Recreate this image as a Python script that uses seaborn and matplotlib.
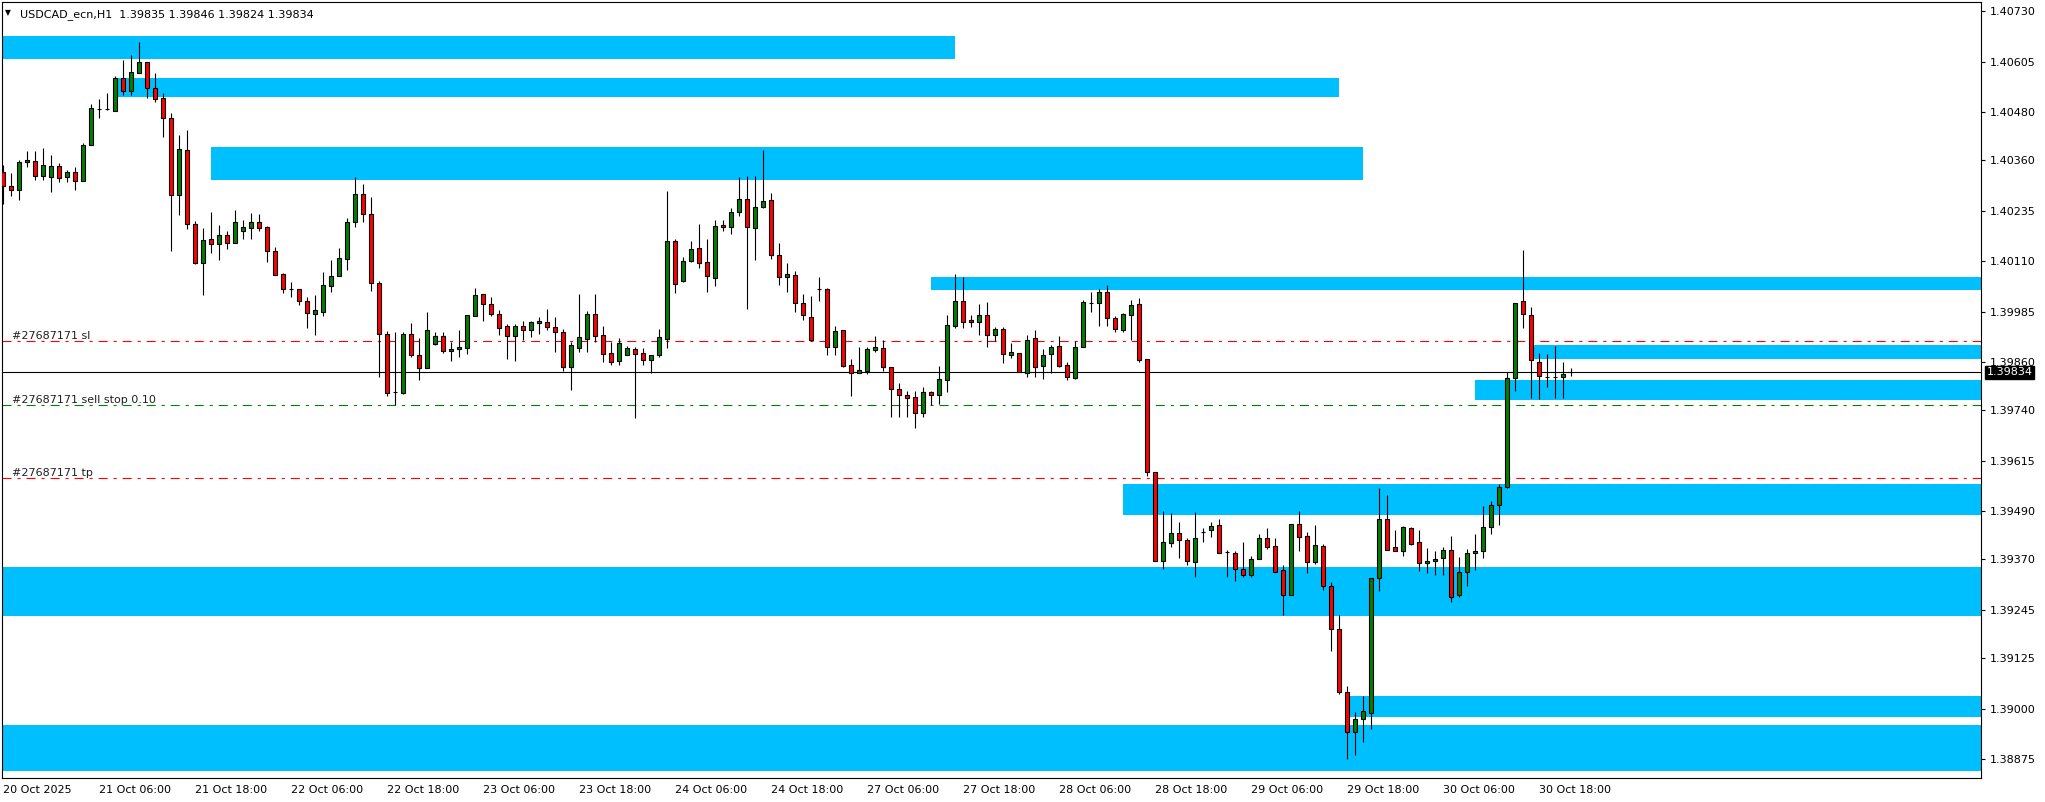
import numpy as np
import pandas as pd
import matplotlib
matplotlib.use("Agg")
import matplotlib.pyplot as plt
import matplotlib.transforms as mtransforms
import seaborn as sns

title_text = "USDCAD_ecn,H1  1.39835 1.39846 1.39824 1.39834"

# hourly bars from 20 Oct 18:00 to 30 Oct 22:00, weekend skipped
bar_times = pd.date_range("2025-10-20 18:00", "2025-10-30 22:00", freq="h")
bar_times = bar_times[bar_times.dayofweek < 5]

# OHLC in points (1 point = 0.00001)
open_pts = [
    140332, 140297, 140287, 140355, 140358, 140322, 140320, 140346, 140320, 140331, 140310, 140398,
    140488, 140488, 140483, 140564, 140533, 140578, 140604, 140539, 140514, 140465, 140273, 140386,
    140202, 140106, 140165, 140152, 140175, 140156, 140186, 140193, 140207, 140195, 140135, 140078,
    140040, 140040, 140011, 139978, 139985, 140049, 140074, 140116, 140206, 140276, 140226, 140057,
    139929, 139785, 139784, 139929, 139877, 139844, 139905, 139924, 139886, 139891, 139894, 139973,
    140028, 140003, 139978, 139948, 139925, 139948, 139940, 139957, 139958, 139946, 139934, 139848,
    139895, 139918, 139978, 139926, 139881, 139863, 139876, 139891, 139881, 139866, 139876, 139918,
    140159, 140062, 140111, 140142, 140107, 140068, 140199, 140194, 140231, 140264, 140192, 140244,
    140261, 140125, 140070, 140075, 140006, 139972, 140041, 140041, 139898, 139939, 139852, 139833,
    139838, 139890, 139894, 139847, 139792, 139777, 139772, 139733, 139785, 139777, 139814, 139950,
    140011, 139963, 139960, 139976, 139928, 139941, 139876, 139881, 139833, 139919, 139851, 139879,
    139900, 139852, 139821, 139896, 140007, 140006, 140033, 139969, 139938, 139977, 140003, 139867,
    139587, 139365, 139410, 139435, 139418, 139363, 139439, 139442, 139456, 139388, 139386, 139347,
    139332, 139371, 139423, 139404, 139344, 139282, 139458, 139427, 139364, 139403, 139304, 139197,
    139040, 138942, 138973, 138990, 139324, 139470, 139400, 139391, 139448, 139413, 139360, 139365,
    139373, 139393, 139282, 139340, 139386, 139390, 139450, 139504, 139550, 139819, 140010, 139976,
    139861, 139823, 139823, 139823, 139835,
]
high_pts = [
    140349, 140329, 140361, 140383, 140383, 140391, 140373, 140353, 140337, 140344, 140403, 140500,
    140512, 140527, 140569, 140609, 140622, 140654, 140604, 140576, 140527, 140477, 140423, 140436,
    140209, 140192, 140232, 140200, 140185, 140237, 140212, 140230, 140227, 140197, 140144, 140081,
    140058, 140040, 140022, 140026, 140083, 140113, 140143, 140218, 140319, 140302, 140270, 140061,
    139937, 139934, 139934, 139956, 139919, 139983, 139934, 139934, 139910, 139939, 139976, 140044,
    140028, 140020, 139989, 139954, 139954, 139962, 139962, 139971, 139991, 139971, 139942, 139910,
    140029, 139986, 140029, 139948, 139910, 139919, 139900, 139896, 139894, 139877, 139941, 140284,
    140164, 140120, 140159, 140202, 140165, 140212, 140212, 140241, 140319, 140321, 140321, 140386,
    140278, 140154, 140105, 140086, 140028, 140024, 140070, 140043, 139949, 139939, 139867, 139898,
    139898, 139924, 139915, 139847, 139807, 139788, 139788, 139797, 139788, 139850, 139977, 140078,
    140070, 139977, 140003, 140008, 139947, 139947, 139908, 139881, 139927, 139939, 139892, 139902,
    139925, 139860, 139912, 140014, 140033, 140040, 140050, 139975, 139982, 140014, 140018, 139867,
    139587, 139490, 139486, 139463, 139423, 139488, 139449, 139462, 139471, 139394, 139392, 139414,
    139379, 139432, 139449, 139423, 139355, 139458, 139490, 139439, 139455, 139409, 139314, 139233,
    139055, 138992, 139031, 139323, 139547, 139529, 139442, 139453, 139451, 139442, 139398, 139390,
    139401, 139427, 139375, 139395, 139433, 139503, 139514, 139556, 139834, 140005, 140137, 139996,
    139882, 139879, 139900, 139860, 139846,
]
low_pts = [
    140252, 140272, 140262, 140344, 140311, 140311, 140282, 140307, 140307, 140287, 140310, 140397,
    140465, 140486, 140483, 140522, 140522, 140578, 140516, 140506, 140419, 140134, 140225, 140189,
    140103, 140026, 140131, 140113, 140141, 140156, 140165, 140165, 140186, 140109, 140076, 140030,
    140022, 140001, 139945, 139927, 139975, 140034, 140072, 140088, 140196, 140206, 140037, 139823,
    139776, 139752, 139780, 139873, 139815, 139844, 139902, 139883, 139863, 139873, 139880, 139973,
    139962, 139975, 139927, 139868, 139863, 139915, 139923, 139929, 139938, 139885, 139838, 139790,
    139884, 139885, 139910, 139861, 139852, 139852, 139876, 139722, 139852, 139832, 139872, 139895,
    140030, 140059, 140109, 140094, 140034, 140049, 140186, 140178, 140223, 139992, 140114, 140241,
    140116, 140052, 140034, 139985, 139964, 139912, 140012, 139876, 139877, 139848, 139776, 139832,
    139829, 139884, 139838, 139724, 139724, 139724, 139697, 139724, 139753, 139756, 139785, 139943,
    139943, 139947, 139928, 139896, 139913, 139857, 139869, 139836, 139823, 139823, 139818, 139832,
    139848, 139814, 139818, 139896, 139985, 139950, 139950, 139935, 139935, 139915, 139861, 139578,
    139365, 139347, 139401, 139373, 139357, 139327, 139414, 139426, 139386, 139327, 139316, 139327,
    139327, 139371, 139397, 139340, 139233, 139282, 139390, 139336, 139358, 139295, 139144, 139037,
    138875, 138886, 138918, 138950, 139292, 139393, 139390, 139379, 139405, 139342, 139336, 139331,
    139331, 139264, 139277, 139305, 139345, 139373, 139432, 139456, 139548, 139788, 139945, 139771,
    139769, 139797, 139771, 139771, 139824,
]
close_pts = [
    140297, 140287, 140355, 140361, 140322, 140349, 140346, 140317, 140331, 140310, 140398, 140489,
    140488, 140488, 140564, 140533, 140579, 140604, 140540, 140513, 140464, 140273, 140388, 140202,
    140106, 140163, 140152, 140175, 140156, 140207, 140195, 140207, 140193, 140134, 140076, 140040,
    140040, 140010, 139981, 139988, 140050, 140073, 140117, 140207, 140276, 140226, 140055, 139929,
    139784, 139785, 139929, 139876, 139846, 139939, 139924, 139886, 139892, 139896, 139976, 140025,
    140003, 139978, 139945, 139925, 139948, 139940, 139959, 139961, 139947, 139934, 139848, 139901,
    139921, 139978, 139925, 139880, 139861, 139906, 139894, 139880, 139866, 139877, 139921, 140159,
    140053, 140110, 140139, 140106, 140073, 140197, 140194, 140231, 140264, 140194, 140244, 140259,
    140125, 140070, 140078, 140006, 139976, 139915, 140041, 139896, 139937, 139851, 139832, 139839,
    139891, 139896, 139848, 139792, 139777, 139771, 139733, 139786, 139777, 139817, 139951, 140011,
    139960, 139960, 139976, 139928, 139941, 139879, 139884, 139836, 139914, 139848, 139877, 139897,
    139851, 139822, 139897, 140008, 140007, 140033, 139968, 139941, 139978, 140001, 139865, 139587,
    139365, 139413, 139435, 139418, 139365, 139424, 139439, 139453, 139386, 139388, 139347, 139332,
    139371, 139423, 139401, 139340, 139283, 139458, 139426, 139364, 139405, 139304, 139198, 139040,
    138942, 138973, 138995, 139323, 139470, 139393, 139390, 139451, 139409, 139360, 139366, 139372,
    139393, 139278, 139340, 139386, 139391, 139450, 139506, 139549, 139819, 140005, 139978, 139864,
    139825, 139823, 139823, 139831, 139834,
]

# supply / demand rectangles (bar index span, price span)
zone_start = [-5, 14, 26, 116, 191, 184, 140, -5, 168, -5]
zone_end = [119, 167, 170, 260, 260, 260, 260, 260, 260, 260]
zone_low = [1.40612, 1.40518, 1.40311, 1.40039, 1.39868, 1.39766, 1.39481, 1.39230, 1.38979, 1.38845]
zone_high = [1.40669, 1.40564, 1.40393, 1.40071, 1.39902, 1.39815, 1.39557, 1.39351, 1.39031, 1.38959]

# order lines
order_labels = ["#27687171 sl", "#27687171 sell stop 0.10", "#27687171 tp"]
order_prices = [1.39911, 1.39752, 1.39571]
order_colors = ["#ff0000", "#008000", "#ff0000"]
bid_price = 1.39834

price_ticks = [1.40730, 1.40605, 1.40480, 1.40360, 1.40235, 1.40110, 1.39985, 1.39860,
               1.39740, 1.39615, 1.39490, 1.39370, 1.39245, 1.39125, 1.39000, 1.38875]

df = pd.DataFrame({"open": open_pts, "high": high_pts, "low": low_pts, "close": close_pts}) / 1e5
df["time"] = bar_times
x = np.arange(len(df))

sns.set_theme(style="white")
plt.rcParams["font.family"] = ["DejaVu Sans"]
plt.rcParams["lines.scale_dashes"] = False

fig = plt.figure(figsize=(20.45, 8.02), dpi=100)
ax = fig.add_axes([2 / 2045, 24.5 / 802, 1979 / 2045, 775.5 / 802])
ax.set_facecolor("white")

for x0, x1, lo, hi in zip(zone_start, zone_end, zone_low, zone_high):
    ax.fill_between([x0, x1], lo, hi, color="#00bfff", lw=0, zorder=1)

dashdot = (0, (6.5, 4.3, 2.2, 4.3))
for lbl, p, col in zip(order_labels, order_prices, order_colors):
    ax.axhline(p, color=col, lw=0.8, ls=dashdot, zorder=2)
ax.axhline(bid_price, color="black", lw=0.8, zorder=2)

body_col = np.where(df["close"] > df["open"], "#008000", "#ff0000")
ax.vlines(x, df["low"], df["high"], color="black", lw=0.8, zorder=3)
ax.bar(x, df["close"] - df["open"], bottom=df["open"], width=0.62,
       color=body_col, edgecolor="black", linewidth=0.8, zorder=4)

ax.set_xlim(-0.125, 247.25)
ax.set_ylim(1.38829, 1.40753)

# order labels
blend = mtransforms.blended_transform_factory(ax.transAxes, ax.transData)
for lbl, p in zip(order_labels, order_prices):
    ax.annotate(lbl, xy=(0.005, p), xycoords=blend, xytext=(0, 1.6),
                textcoords="offset points", ha="left", va="baseline",
                fontsize=8, color="#202020", zorder=6)

# time axis
tick_idx = [i for i, t in enumerate(df["time"]) if t.hour in (6, 18)]
tick_lbl = [df["time"][i].strftime("%d %b %H:%M") for i in tick_idx]
tick_lbl[0] = df["time"][0].strftime("%d %b %Y")
ax.set_xticks(tick_idx)
ax.set_xticklabels(tick_lbl, ha="left")

ax.yaxis.tick_right()
ax.set_yticks(price_ticks)
ax.set_yticklabels([f"{p:.5f}" for p in price_ticks])
ax.tick_params(axis="both", direction="out", length=3, width=0.8, colors="black",
               labelsize=8, pad=2.5)
ax.tick_params(axis="y", pad=3)
for s in ax.spines.values():
    s.set_color("black")
    s.set_linewidth(0.8)
    s.set_visible(True)

# bid price tag
ax.annotate(f"{bid_price:.5f}", xy=(1, bid_price), xycoords=blend, xytext=(4, 0),
            textcoords="offset points", ha="left", va="center", fontsize=8, color="white",
            bbox=dict(boxstyle="square,pad=0.15", fc="black", ec="black"),
            annotation_clip=False, zorder=10)

fig.text(5 / 2045, 1 - 13 / 802, "\u25bc", fontsize=5.5, va="center", ha="left", color="black")
fig.text(20 / 2045, 1 - 17 / 802, title_text, fontsize=8, va="baseline", ha="left", color="black")

fig.savefig("out.png", dpi=100)
